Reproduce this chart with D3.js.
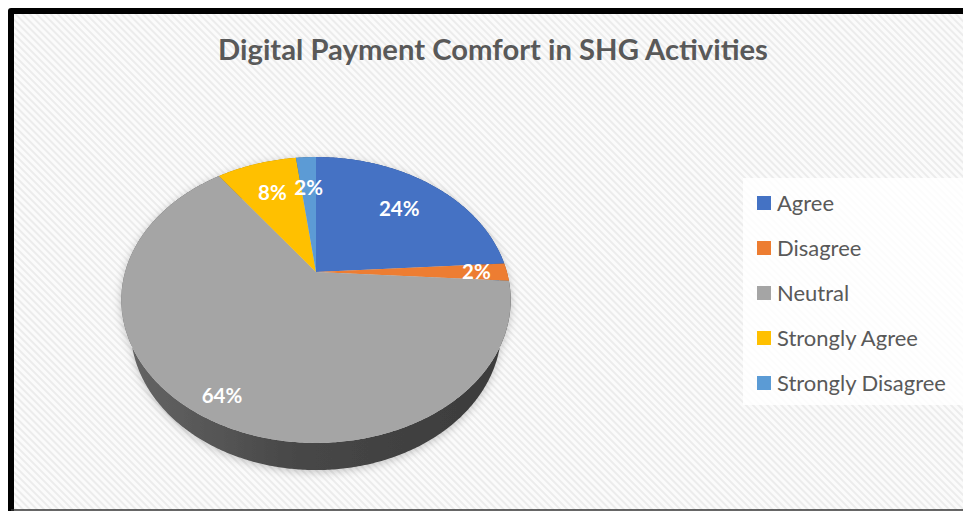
<!DOCTYPE html>
<html><head><meta charset="utf-8">
<script src="https://cdn.jsdelivr.net/npm/d3@7"></script>
<style>html,body{margin:0;padding:0;background:#fff;}svg{display:block;}</style>
</head><body>
<svg id="chart" width="963" height="511"></svg>
<script>
// ---- data ----
const categories = ["Agree", "Disagree", "Neutral", "Strongly Agree", "Strongly Disagree"];
const values = [24, 2, 64, 8, 2];
const colors = ["#4472C4", "#ED7D31", "#A5A5A5", "#FFC000", "#5B9BD5"];
const title = "Digital Payment Comfort in SHG Activities";

const W = 963, H = 511;
const svg = d3.select("#chart");
const defs = svg.append("defs");
const FONT = "Lato, 'Open Sans', 'Liberation Sans', sans-serif";

// background hatch pattern
const pat = defs.append("pattern").attr("id", "hatch").attr("patternUnits", "userSpaceOnUse")
  .attr("width", 5).attr("height", 5).attr("patternTransform", "rotate(-45)");
pat.append("rect").attr("width", 5).attr("height", 5).attr("fill", "#fbfbfb");
pat.append("rect").attr("width", 2).attr("height", 5).attr("fill", "#ececec");

svg.append("rect").attr("x", 11).attr("y", 11).attr("width", W - 11).attr("height", H - 12).attr("fill", "url(#hatch)");
svg.append("path").attr("d", `M11,${H} V11 H${W}`).attr("fill", "none").attr("stroke", "#000")
  .attr("stroke-width", 6).attr("stroke-linejoin", "round");
svg.append("line").attr("x1", 11).attr("x2", W).attr("y1", H - 1).attr("y2", H - 1).attr("stroke", "#333").attr("stroke-width", 1.5);

// title
const tt = svg.append("text").attr("x", 493).attr("y", 60).attr("text-anchor", "middle")
  .attr("font-family", FONT).attr("font-weight", "bold").attr("font-size", 26).attr("fill", "#595959").text(title);
{ const w = tt.node().getComputedTextLength(); tt.attr("font-size", 26 * 550 / w); }

// ---- 3D perspective pie ----
const cx = 316, cy = 272, k = 677, R = 0.282, cphi = 0.694, sphi = 0.72, T = 0.0668;
function project(a, r, z) {
  const X = r * Math.sin(a), Y = r * Math.cos(a);
  const depth = 1 + Y * cphi - z * sphi;
  const w = Y * sphi + z * cphi;
  return [cx + k * X / depth, cy - k * w / depth];
}
const arcs = d3.pie().sort(null).value(d => d)(values);
const color = d3.scaleOrdinal().domain(categories).range(colors);

const sideGrad = defs.append("linearGradient").attr("id", "sideGrad").attr("gradientUnits", "userSpaceOnUse")
  .attr("x1", 120).attr("x2", 512).attr("y1", 0).attr("y2", 0);
sideGrad.append("stop").attr("offset", 0).attr("stop-color", "#666666");
sideGrad.append("stop").attr("offset", 0.45).attr("stop-color", "#474747");
sideGrad.append("stop").attr("offset", 1).attr("stop-color", "#3b3b3b");

const flt = defs.append("filter").attr("id", "shadow").attr("x", "-20%").attr("y", "-20%").attr("width", "140%").attr("height", "140%");
flt.append("feDropShadow").attr("dx", 0).attr("dy", 2).attr("stdDeviation", 4).attr("flood-color", "#000").attr("flood-opacity", 0.22);

const pieG = svg.append("g").attr("filter", "url(#shadow)");
const line = d3.line();
function rim(a0, a1, z) {
  const n = Math.max(4, Math.ceil((a1 - a0) / 0.01));
  return d3.range(n + 1).map(i => project(a0 + (a1 - a0) * i / n, R, z));
}
// side walls
arcs.forEach((d, i) => {
  const top = rim(d.startAngle, d.endAngle, 0);
  const bot = rim(d.startAngle, d.endAngle, -T).reverse();
  const fill = categories[i] === "Neutral" ? "url(#sideGrad)" : d3.color(colors[i]).darker(1.2);
  pieG.append("path").attr("d", line(top.concat(bot)) + "Z").attr("fill", fill);
});
// top faces
arcs.forEach((d, i) => {
  const pts = [project(0, 0, 0)].concat(rim(d.startAngle, d.endAngle, 0));
  pieG.append("path").attr("d", line(pts) + "Z").attr("fill", color(categories[i]));
});

// data labels
const labelR = { "Disagree": 0.84, "Neutral": 0.87 };
arcs.forEach((d, i) => {
  const mid = (d.startAngle + d.endAngle) / 2;
  const f = labelR[categories[i]] || 0.7;
  const p = project(mid, R * f, 0);
  svg.append("text").attr("x", p[0]).attr("y", p[1]).attr("dy", "0.36em").attr("text-anchor", "middle")
    .attr("font-family", FONT).attr("font-weight", "bold").attr("font-size", 20.5).attr("fill", "#fff")
    .text(Math.round(values[i] / d3.sum(values) * 100) + "%");
});

// legend
svg.append("rect").attr("x", 743).attr("y", 178).attr("width", W - 743).attr("height", 227).attr("fill", "#fff").attr("opacity", 0.85);
const lg = svg.append("g");
const ly = d3.scalePoint().domain(categories).range([203, 383]);
const items = lg.selectAll("g").data(categories).join("g").attr("transform", d => `translate(757,${ly(d)})`);
items.append("rect").attr("x", 0).attr("y", -7).attr("width", 14).attr("height", 14).attr("fill", d => color(d));
const lt = items.append("text").attr("x", 20).attr("dy", "0.35em").attr("font-family", FONT)
  .attr("font-size", 20).attr("fill", "#595959").text(d => d);
{ const w = lt.filter(d => d === "Strongly Disagree").node().getComputedTextLength(); lt.attr("font-size", 20 * 169 / w); }
</script>
</body></html>
